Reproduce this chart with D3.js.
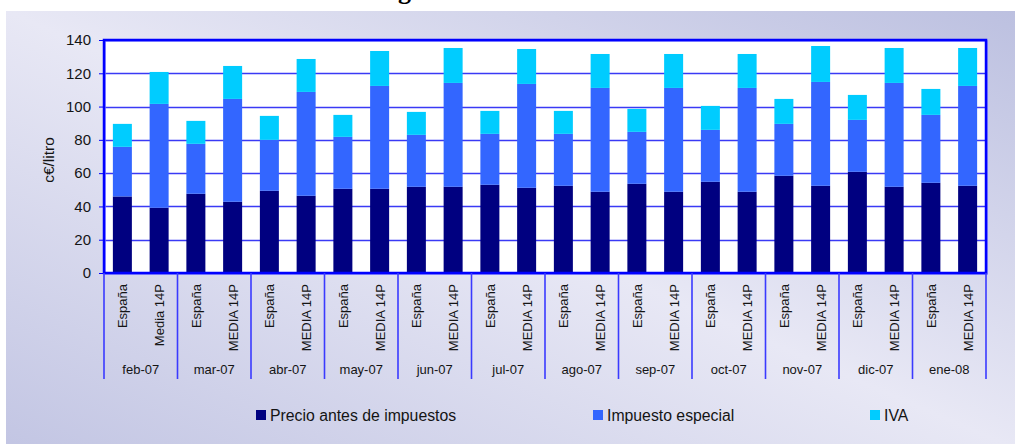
<!DOCTYPE html>
<html>
<head>
<meta charset="utf-8">
<script src="https://cdn.jsdelivr.net/npm/d3@7"></script>
<style>
  body { margin: 0; background: #fff; }
  svg { display: block; font-family: "Liberation Sans", Arial, sans-serif; }
</style>
</head>
<body>
<svg id="chart" width="1015" height="444"></svg>
<script>
const months = ['feb-07','mar-07','abr-07','may-07','jun-07','jul-07','ago-07','sep-07','oct-07','nov-07','dic-07','ene-08'];
const barLabels = ['España','Media 14P','España','MEDIA 14P','España','MEDIA 14P','España','MEDIA 14P',
  'España','MEDIA 14P','España','MEDIA 14P','España','MEDIA 14P','España','MEDIA 14P',
  'España','MEDIA 14P','España','MEDIA 14P','España','MEDIA 14P','España','MEDIA 14P'];
const precio   = [46, 39.2, 47.6, 42.8, 49.4, 46.4, 50.6, 50.6, 51.8, 51.8, 53, 51.2, 52.4, 48.8, 53.6, 48.8, 54.8, 48.8, 58.4, 52.4, 60.8, 51.8, 54.2, 52.4];
const impuesto = [29.8, 62.4, 30, 61.8, 30.6, 62.4, 31.2, 61.8, 31.2, 62.4, 30.6, 62.4, 31.2, 62.4, 31.2, 62.4, 31.2, 62.4, 31.2, 62.4, 31.2, 62.4, 40.8, 60];
const iva      = [13.8, 19.2, 13.8, 19.8, 14.4, 19.8, 13.2, 21, 13.8, 21, 13.8, 21, 13.8, 20.4, 13.8, 20.4, 14.4, 20.4, 15, 21.6, 15, 21, 15.6, 22.8];
const seriesNames = ['Precio antes de impuestos','Impuesto especial','IVA'];
const colors = ['#000080','#3366ff','#00ccff'];
const yTicks = [0, 20, 40, 60, 80, 100, 120, 140];

const svg = d3.select('svg#chart');
const plot = {left: 104, right: 986, top: 40, bottom: 273};
const ink = '#141414';

// panel background
const defs = svg.append('defs');
const grad = defs.append('linearGradient').attr('id','bg')
  .attr('x1',1).attr('y1',0).attr('x2',0).attr('y2',1);
grad.append('stop').attr('offset',0).attr('stop-color','#bcc0e0');
grad.append('stop').attr('offset',0.5).attr('stop-color','#e8e8f5');
grad.append('stop').attr('offset',1).attr('stop-color','#c2c5e3');
svg.append('rect').attr('x',6).attr('y',11).attr('width',1015).attr('height',440).attr('fill','url(#bg)');

// title, cut by the top edge
svg.append('text').attr('x',398).attr('y',-1).attr('font-family','"Liberation Serif", serif')
  .attr('font-weight','bold').attr('font-size',26).attr('fill','#000').text('g');

const rows = barLabels.map((l, i) => ({i: i, precio: precio[i], impuesto: impuesto[i], iva: iva[i]}));
const stack = d3.stack().keys(['precio','impuesto','iva'])(rows);

const x = d3.scaleBand().domain(d3.range(barLabels.length))
  .range([plot.left, plot.right]).paddingInner(0.483).paddingOuter(0.2415);
const xGroup = d3.scaleBand().domain(months).range([plot.left, plot.right]);
const y = d3.scaleLinear().domain([0, 140]).range([plot.bottom, plot.top]);

svg.append('rect').attr('x',plot.left).attr('y',plot.top)
  .attr('width',plot.right - plot.left).attr('height',plot.bottom - plot.top).attr('fill','#fff');

// grid
svg.append('g').selectAll('line').data(yTicks.slice(1, -1)).enter().append('line')
  .attr('x1',plot.left).attr('x2',plot.right)
  .attr('y1',d => Math.round(y(d)) + 0.5).attr('y2',d => Math.round(y(d)) + 0.5)
  .attr('stroke','#3a3af5').attr('stroke-width',1.3);

// bars
svg.append('g').selectAll('g').data(stack).enter().append('g')
    .attr('fill',(d, k) => colors[k])
  .selectAll('rect').data(d => d).enter().append('rect')
    .attr('x',d => x(d.data.i))
    .attr('width',x.bandwidth())
    .attr('y',d => y(d[1]))
    .attr('height',d => y(d[0]) - y(d[1]));

// frame
svg.append('rect').attr('x',plot.left + 1).attr('y',plot.top + 1)
  .attr('width',plot.right - plot.left).attr('height',plot.bottom - plot.top)
  .attr('fill','none').attr('stroke','#8080ff').attr('stroke-width',1.5);
svg.append('rect').attr('x',plot.left).attr('y',plot.top)
  .attr('width',plot.right - plot.left).attr('height',plot.bottom - plot.top)
  .attr('fill','none').attr('stroke','#0000ff').attr('stroke-width',2.5);

// y axis
const yAxis = svg.append('g').attr('transform',`translate(${plot.left},0)`)
  .call(d3.axisLeft(y).tickValues(yTicks).tickSize(5).tickPadding(8));
yAxis.select('.domain').remove();
yAxis.selectAll('line').attr('stroke','#0000ff');
yAxis.selectAll('text').attr('font-size',15).attr('fill',ink).attr('font-family','"Liberation Sans", Arial, sans-serif');

svg.append('text').attr('transform','translate(54,160) rotate(-90)')
  .attr('text-anchor','middle').attr('font-size',15.5).attr('fill',ink).text('c€/litro');

// category axis
svg.append('g').selectAll('line').data(d3.range(months.length + 1)).enter().append('line')
  .attr('x1',k => plot.left + k * xGroup.step()).attr('x2',k => plot.left + k * xGroup.step())
  .attr('y1',plot.bottom).attr('y2',379)
  .attr('stroke','#3a3aff').attr('stroke-width',1.6);

svg.append('g').selectAll('text').data(barLabels).enter().append('text')
  .attr('transform',(d, i) => `translate(${x(i) + x.bandwidth() / 2 + 5},284) rotate(-90)`)
  .attr('text-anchor','end').attr('font-size',13).attr('fill',ink).text(d => d);

svg.append('g').selectAll('text').data(months).enter().append('text')
  .attr('x',d => xGroup(d) + xGroup.bandwidth() / 2).attr('y',374)
  .attr('text-anchor','middle').attr('font-size',13).attr('fill',ink).text(d => d);

// legend
const legendX = [256, 593, 870];
const legend = svg.append('g').selectAll('g').data(seriesNames).enter().append('g')
  .attr('transform',(d, k) => `translate(${legendX[k]},410)`);
legend.append('rect').attr('width',10).attr('height',10).attr('fill',(d, k) => colors[k]);
legend.append('text').attr('x',14).attr('y',10.5).attr('font-size',15.8).attr('fill',ink).text(d => d);
</script>
</body>
</html>
